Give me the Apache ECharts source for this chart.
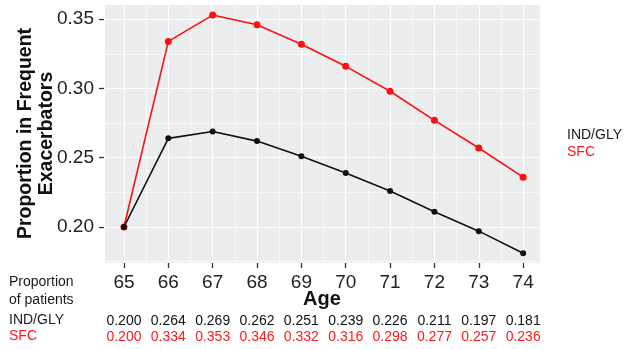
<!DOCTYPE html>
<html>
<head>
<meta charset="utf-8">
<script src="https://cdn.jsdelivr.net/npm/echarts@6/dist/echarts.min.js"></script>
<style>html,body{margin:0;padding:0;background:#fff}#c{width:625px;height:349px}</style>
</head>
<body>
<div id="c"></div>
<script>
const ages = [65, 66, 67, 68, 69, 70, 71, 72, 73, 74];
const indGly = [0.200, 0.264, 0.269, 0.262, 0.251, 0.239, 0.226, 0.211, 0.197, 0.181];
const sfc = [0.200, 0.334, 0.353, 0.346, 0.332, 0.316, 0.298, 0.277, 0.257, 0.236];
const yTickLabels = ['0.20', '0.25', '0.30', '0.35'];

const FONT = 'Liberation Sans, Arial, sans-serif';
const chart = echarts.init(document.getElementById('c'), null, {renderer: 'canvas'});

function ageLabel(v) {
  const i = ages.indexOf(Math.round(v));
  return (Math.abs(v - Math.round(v)) < 1e-6 && i >= 0) ? String(ages[i]) : '';
}
function tableLabel(arr) {
  return function (v) {
    const r = Math.round(v);
    const i = ages.indexOf(r);
    return (Math.abs(v - r) < 1e-6 && i >= 0) ? arr[i].toFixed(3) : '';
  };
}
const xBase = {
  type: 'value', gridIndex: 0, min: 64.55, max: 74.38, minInterval: 1, maxInterval: 1
};

chart.setOption({
  animation: false,
  textStyle: {fontFamily: FONT},
  grid: {left: 104, right: 85, top: 4, bottom: 86, show: true, backgroundColor: '#ebedee', borderWidth: 0,
         containLabel: false, outerBoundsMode: 'none'},
  legend: {
    orient: 'vertical', left: 556, top: 123, itemGap: 3, itemWidth: 1, itemHeight: 1,
    selectedMode: false,
    data: [
      {name: 'IND/GLY', icon: 'none', textStyle: {color: '#1a1a1a'}},
      {name: 'SFC', icon: 'none', textStyle: {color: '#ff1a1a'}}
    ],
    textStyle: {fontSize: 14, fontFamily: FONT, padding: [0, 0, 0, 0]}
  },
  xAxis: [
    Object.assign({}, xBase, {
      name: 'Age', nameLocation: 'middle', nameGap: 26, nameMoveOverlap: false,
      nameTextStyle: {fontSize: 20, fontWeight: 'bold', color: '#111', fontFamily: FONT},
      axisLine: {show: false},
      axisTick: {show: true, length: 5, lineStyle: {color: '#333', width: 1.3}},
      axisLabel: {fontSize: 19, color: '#222', margin: 10, formatter: ageLabel, showMinLabel: false, showMaxLabel: false},
      splitLine: {show: true, lineStyle: {color: '#ffffff', width: 1.2}},
      minorTick: {show: false, splitNumber: 2},
      minorSplitLine: {show: true, lineStyle: {color: '#ffffff', width: 0.6}}
    }),
    Object.assign({}, xBase, {
      position: 'bottom', offset: 45,
      axisLine: {show: false}, axisTick: {show: false}, splitLine: {show: false},
      axisLabel: {fontSize: 14, color: '#111', margin: 6, formatter: tableLabel(indGly)}
    }),
    Object.assign({}, xBase, {
      position: 'bottom', offset: 61,
      axisLine: {show: false}, axisTick: {show: false}, splitLine: {show: false},
      axisLabel: {fontSize: 14, color: '#ff1a1a', margin: 6, formatter: tableLabel(sfc)}
    })
  ],
  yAxis: {
    type: 'value', min: 0.174, max: 0.361, minInterval: 0.05, maxInterval: 0.05,
    name: 'Proportion in Frequent\nExacerbators', nameLocation: 'middle', nameGap: 47, nameRotate: 90,
    nameMoveOverlap: false,
    nameTextStyle: {fontSize: 19.5, fontWeight: 'bold', color: '#111', lineHeight: 21, fontFamily: FONT},
    axisLine: {show: false},
    axisTick: {show: true, length: 5, lineStyle: {color: '#333', width: 1.3}},
    axisLabel: {
      fontSize: 19, color: '#222', margin: 10, showMinLabel: false, showMaxLabel: false,
      formatter: function (v) {
        const s = v.toFixed(2);
        return yTickLabels.indexOf(s) >= 0 && Math.abs(v - parseFloat(s)) < 1e-6 ? s : '';
      }
    },
    splitLine: {show: true, lineStyle: {color: '#ffffff', width: 1.2}},
    minorTick: {show: false, splitNumber: 2},
    minorSplitLine: {show: true, lineStyle: {color: '#ffffff', width: 0.6}}
  },
  graphic: [
    {type: 'text', left: 9, top: 273, style: {text: 'Proportion\nof patients', fontSize: 14, lineHeight: 18, fill: '#1a1a1a', fontFamily: FONT}},
    {type: 'text', left: 9, top: 313, style: {text: 'IND/GLY', fontSize: 14, fill: '#1a1a1a', fontFamily: FONT}},
    {type: 'text', left: 9, top: 329, style: {text: 'SFC', fontSize: 14, fill: '#ff1a1a', fontFamily: FONT}}
  ],
  series: [
    {
      name: 'IND/GLY', type: 'line', xAxisIndex: 0,
      data: ages.map((a, i) => [a, indGly[i]]),
      symbol: 'circle', symbolSize: 6,
      lineStyle: {color: '#111', width: 1.6},
      itemStyle: {color: '#111'}, z: 3
    },
    {
      name: 'SFC', type: 'line', xAxisIndex: 0,
      data: ages.map((a, i) => [a, sfc[i]]),
      symbol: 'circle', symbolSize: 7,
      lineStyle: {color: '#ff1010', width: 1.6},
      itemStyle: {color: '#ff1010'}, z: 2
    }
  ]
});
</script>
</body>
</html>
